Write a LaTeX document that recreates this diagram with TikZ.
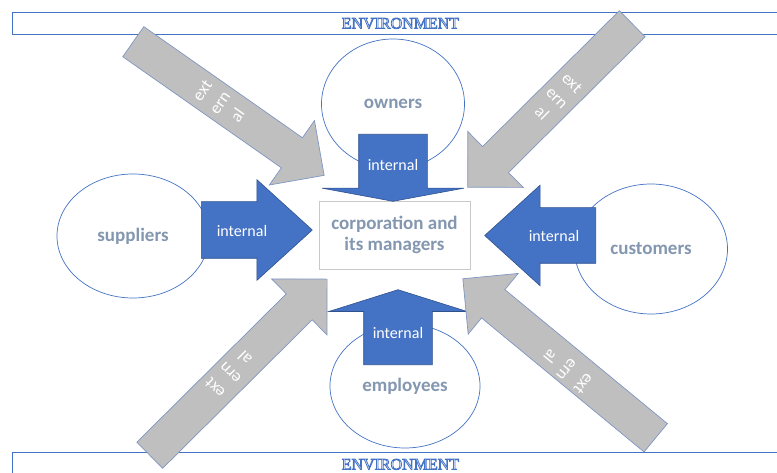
\documentclass[tikz,border=0pt]{standalone}
\usepackage{fontspec}
\setmainfont{Carlito}
\newfontfamily\envfont{Liberation Serif}
\usepackage{tikz}
\usetikzlibrary{shapes.geometric,shapes.arrows}

\definecolor{accent}{HTML}{4472C4}
\definecolor{accentdark}{HTML}{2F528F}
\definecolor{greyfill}{HTML}{BFBFBF}
\definecolor{greyedge}{HTML}{7F96C4}
\definecolor{labelgrey}{HTML}{8497B0}
\definecolor{boxedge}{HTML}{C9C9C9}

% hollow letters (text render mode 1)
\newcommand{\hollow}[1]{\special{pdf:literal direct 1 Tr}#1\special{pdf:literal direct 0 Tr}}

\begin{document}
\begin{tikzpicture}[x=1pt,y=-1pt]
  \tikzstyle{envbar}=[rectangle,draw=accent,line width=0.8pt,fill=white,inner sep=0pt,anchor=north west,text=accent,font=\envfont\fontsize{16}{18}\selectfont]
  \tikzstyle{party}=[ellipse,draw=accent,line width=0.7pt,fill=white,inner sep=0pt,text=labelgrey,font=\fontsize{19}{21}\selectfont\bfseries]
  \tikzstyle{intarrow}=[single arrow,draw=accentdark,fill=accent,line width=0.6pt,inner xsep=0pt,minimum width=1pt,anchor=tail]
  \tikzstyle{extarrow}=[single arrow,draw=greyedge,fill=greyfill,line width=0.7pt,inner xsep=0pt,inner ysep=18pt,minimum width=1pt,single arrow head extend=21pt,single arrow tip angle=90,anchor=tail]
  \tikzstyle{inttext}=[text=white,font=\fontsize{16}{19}\selectfont]
  \tikzstyle{exttext}=[text=white,align=center,inner sep=0pt,font=\fontsize{17}{21.5}\selectfont]

  \useasboundingbox (0,0) rectangle (777,473);

  % environment bars
  \node[envbar,minimum width=776,minimum height=22] (envtop) at (12,12) {\hollow{ENVIRONMENT}};
  \node[envbar,minimum width=776,minimum height=24] (envbot) at (12,452) {\hollow{ENVIRONMENT}};

  % stakeholders
  \node[party,minimum width=143,minimum height=130] (owners) at (393,104) {owners};
  \node[party,minimum width=152,minimum height=124] (suppliers) at (133,236) {suppliers};
  \node[party,minimum width=153,minimum height=130] (customers) at (651,249) {customers};
  \node[party,minimum width=150,minimum height=124] (employees) at (405,386) {employees};

  \node[rectangle,draw=boxedge,line width=0.8pt,fill=white,minimum width=151,minimum height=68,
        align=center,text=labelgrey,font=\fontsize{19}{21}\selectfont\bfseries] (corp) at (394.5,235)
        {corporation and\\its managers};

  % internal arrows
  \node[intarrow,inner ysep=34pt,single arrow head extend=36.5pt,single arrow tip angle=159,minimum height=67,rotate=-90] (intn) at (393,134) {};
  \node[intarrow,inner ysep=34pt,single arrow head extend=35pt,single arrow tip angle=145,minimum height=75,rotate=90] (ints) at (398,365) {};
  \node[intarrow,inner ysep=28pt,single arrow head extend=22pt,single arrow tip angle=84.5,minimum height=111] (intw) at (201,230) {};
  \node[intarrow,inner ysep=27.5pt,single arrow head extend=22.5pt,single arrow tip angle=84.5,minimum height=111,rotate=180] (inte) at (596,235.5) {};

  \node[inttext] (intnlbl) at (393,165) {internal};
  \node[inttext] (intslbl) at (398,333) {internal};
  \node[inttext] (intwlbl) at (242,231) {internal};
  \node[inttext] (intelbl) at (554,236) {internal};

  % external arrows
  \node[extarrow,minimum height=233,rotate=-35] (extnw) at (133,41.5) {};
  \node[extarrow,minimum height=232,rotate=-135.2] (extne) at (632.5,23.5) {};
  \node[extarrow,minimum height=250,rotate=44.8] (extsw) at (149.5,455.5) {};
  \node[extarrow,minimum height=250,rotate=140.5] (extse) at (656,438) {};

  \node[exttext,rotate=55] (extnwlbl) at (220,103) {ext\\ern\\al};
  \node[exttext,rotate=-45] (extnelbl) at (557,98) {ext\\ern\\al};
  \node[exttext,rotate=135] (extswlbl) at (230,373) {ext\\ern\\al};
  \node[exttext,rotate=230.5] (extselbl) at (567,370) {ext\\ern\\al};

\end{tikzpicture}
\end{document}
